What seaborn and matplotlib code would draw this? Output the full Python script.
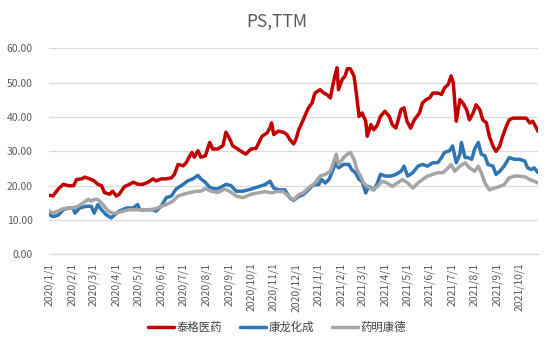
import matplotlib
matplotlib.use("Agg")
import matplotlib.pyplot as plt
import matplotlib.dates as mdates
from matplotlib.ticker import FuncFormatter
from matplotlib.lines import Line2D
import seaborn as sns
import pandas as pd

title = "PS,TTM"
series_names = ["泰格医药", "康龙化成", "药明康德"]
colors = ["#C00000", "#2E75B6", "#A5A5A5"]

tigermed_dates = [
    "2020-01-01", "2020-01-06", "2020-01-13", "2020-01-20", "2020-01-27", "2020-02-03", "2020-02-07",
    "2020-02-14", "2020-02-18", "2020-02-25", "2020-03-02", "2020-03-07", "2020-03-12", "2020-03-16",
    "2020-03-23", "2020-03-27", "2020-04-01", "2020-04-05", "2020-04-12", "2020-04-19", "2020-04-24",
    "2020-05-01", "2020-05-07", "2020-05-14", "2020-05-21", "2020-05-25", "2020-06-01", "2020-06-08",
    "2020-06-15", "2020-06-19", "2020-06-24", "2020-07-01", "2020-07-05", "2020-07-10", "2020-07-13",
    "2020-07-16", "2020-07-21", "2020-07-25", "2020-07-31", "2020-08-06", "2020-08-10", "2020-08-17",
    "2020-08-24", "2020-08-28", "2020-09-02", "2020-09-06", "2020-09-13", "2020-09-20", "2020-09-24",
    "2020-10-01", "2020-10-08", "2020-10-16", "2020-10-23", "2020-10-27", "2020-10-29", "2020-11-01",
    "2020-11-07", "2020-11-14", "2020-11-19", "2020-11-23", "2020-11-28", "2020-12-01", "2020-12-05",
    "2020-12-11", "2020-12-18", "2020-12-23", "2020-12-27", "2021-01-03", "2021-01-08", "2021-01-12",
    "2021-01-17", "2021-01-19", "2021-01-23", "2021-01-26", "2021-01-28", "2021-02-02", "2021-02-06",
    "2021-02-09", "2021-02-13", "2021-02-18", "2021-02-20", "2021-02-25", "2021-03-01", "2021-03-06",
    "2021-03-08", "2021-03-13", "2021-03-17", "2021-03-22", "2021-03-26", "2021-04-01", "2021-04-07",
    "2021-04-11", "2021-04-16", "2021-04-23", "2021-04-27", "2021-05-01", "2021-05-06", "2021-05-11",
    "2021-05-18", "2021-05-22", "2021-05-27", "2021-06-01", "2021-06-05", "2021-06-12", "2021-06-17",
    "2021-06-21", "2021-06-26", "2021-06-30", "2021-07-03", "2021-07-07", "2021-07-12", "2021-07-16",
    "2021-07-21", "2021-07-25", "2021-07-30", "2021-08-03", "2021-08-08", "2021-08-12", "2021-08-17",
    "2021-08-21", "2021-08-26", "2021-08-30", "2021-09-04", "2021-09-08", "2021-09-13", "2021-09-17",
    "2021-09-22", "2021-10-01", "2021-10-10", "2021-10-15", "2021-10-19", "2021-10-24", "2021-10-26",
]
tigermed_values = [
    17.2, 17.0, 19.0, 20.4, 20.0, 20.0, 21.8,
    22.0, 22.5, 22.0, 21.4, 20.4, 20.0, 18.0,
    17.5, 18.4, 17.0, 17.5, 19.7, 20.4, 21.0,
    20.4, 20.4, 21.0, 22.0, 21.4, 22.0, 22.0,
    22.3, 23.3, 26.2, 25.8, 26.7, 28.7, 29.7,
    28.3, 30.2, 28.3, 28.7, 32.6, 30.7, 30.7,
    31.7, 35.6, 33.7, 31.7, 30.7, 29.7, 29.2,
    30.7, 30.9, 34.4, 35.4, 36.9, 38.3, 34.9,
    35.9, 35.6, 34.9, 33.4, 32.2, 33.4, 36.3,
    39.2, 42.6, 44.1, 47.0, 48.0, 47.0, 46.6,
    45.6, 48.0, 52.0, 54.4, 48.0, 51.0, 52.0,
    54.1, 54.1, 52.0, 49.0, 40.2, 41.2, 38.8,
    34.4, 37.8, 36.3, 37.8, 40.2, 41.7, 40.2,
    37.8, 36.8, 42.2, 42.7, 38.8, 36.8, 39.2,
    41.2, 44.1, 45.1, 45.6, 47.0, 47.0, 46.6,
    48.5, 49.5, 52.0, 50.0, 38.8, 45.1, 44.1,
    42.2, 39.2, 41.2, 43.6, 42.2, 39.2, 38.3,
    34.4, 31.5, 30.0, 31.5, 34.4, 37.3, 39.2,
    39.7, 39.7, 39.7, 38.3, 38.8, 36.8, 35.9,
]

asymchem_dates = [
    "2020-01-01", "2020-01-06", "2020-01-13", "2020-01-20", "2020-01-27", "2020-02-02", "2020-02-05",
    "2020-02-11", "2020-02-20", "2020-02-27", "2020-03-02", "2020-03-07", "2020-03-12", "2020-03-18",
    "2020-03-25", "2020-03-30", "2020-04-05", "2020-04-15", "2020-04-24", "2020-04-30", "2020-05-03",
    "2020-05-12", "2020-05-21", "2020-05-25", "2020-06-01", "2020-06-08", "2020-06-15", "2020-06-21",
    "2020-07-01", "2020-07-07", "2020-07-14", "2020-07-21", "2020-07-25", "2020-07-31", "2020-08-06",
    "2020-08-15", "2020-08-21", "2020-08-28", "2020-09-04", "2020-09-11", "2020-09-20", "2020-10-01",
    "2020-10-20", "2020-10-27", "2020-11-01", "2020-11-07", "2020-11-16", "2020-11-23", "2020-11-28",
    "2020-12-05", "2020-12-11", "2020-12-18", "2020-12-25", "2021-01-01", "2021-01-05", "2021-01-10",
    "2021-01-15", "2021-01-19", "2021-01-24", "2021-01-28", "2021-02-04", "2021-02-11", "2021-02-15",
    "2021-02-20", "2021-02-25", "2021-03-01", "2021-03-06", "2021-03-10", "2021-03-17", "2021-03-22",
    "2021-03-26", "2021-04-02", "2021-04-09", "2021-04-16", "2021-04-23", "2021-04-27", "2021-05-02",
    "2021-05-09", "2021-05-16", "2021-05-22", "2021-05-29", "2021-06-05", "2021-06-12", "2021-06-17",
    "2021-06-21", "2021-06-28", "2021-07-02", "2021-07-07", "2021-07-12", "2021-07-14", "2021-07-19",
    "2021-07-23", "2021-07-28", "2021-08-01", "2021-08-06", "2021-08-10", "2021-08-15", "2021-08-19",
    "2021-08-26", "2021-08-30", "2021-09-04", "2021-09-10", "2021-09-17", "2021-09-24", "2021-10-01",
    "2021-10-08", "2021-10-12", "2021-10-17", "2021-10-21", "2021-10-26",
]
asymchem_values = [
    11.6, 11.0, 11.4, 13.0, 13.5, 13.5, 12.0,
    13.5, 14.0, 14.0, 12.0, 14.5, 13.0, 11.6,
    10.6, 11.6, 12.6, 13.5, 13.5, 14.5, 13.0,
    13.0, 13.0, 12.6, 14.0, 16.5, 17.0, 19.0,
    20.4, 21.4, 22.0, 23.0, 22.0, 21.0, 19.5,
    19.0, 19.5, 20.4, 20.0, 18.4, 18.4, 19.0,
    20.3, 21.3, 19.3, 18.8, 18.8, 16.4, 15.7,
    16.9, 17.4, 18.8, 20.3, 20.3, 21.8, 20.8,
    21.8, 23.8, 26.7, 25.2, 26.2, 26.2, 24.7,
    23.8, 21.8, 21.3, 17.9, 19.8, 18.8, 20.8,
    23.3, 22.8, 22.8, 23.3, 24.2, 25.7, 22.8,
    23.8, 25.7, 26.2, 25.7, 26.7, 26.7, 28.2,
    29.7, 30.2, 31.6, 26.7, 29.2, 32.6, 28.2,
    28.2, 27.7, 30.7, 32.6, 29.2, 28.7, 26.2,
    25.7, 23.3, 24.2, 25.7, 28.2, 27.7, 27.7,
    27.2, 25.2, 24.7, 25.2, 23.8,
]

wuxi_dates = [
    "2020-01-01", "2020-01-06", "2020-01-13", "2020-01-20", "2020-01-27", "2020-02-02", "2020-02-09",
    "2020-02-16", "2020-02-23", "2020-02-27", "2020-03-02", "2020-03-07", "2020-03-14", "2020-03-21",
    "2020-03-27", "2020-04-01", "2020-04-10", "2020-04-19", "2020-04-28", "2020-05-07", "2020-05-16",
    "2020-05-25", "2020-06-01", "2020-06-08", "2020-06-17", "2020-06-24", "2020-07-01", "2020-07-10",
    "2020-07-19", "2020-07-25", "2020-07-31", "2020-08-08", "2020-08-17", "2020-08-26", "2020-09-02",
    "2020-09-11", "2020-09-20", "2020-10-01", "2020-10-20", "2020-10-29", "2020-11-05", "2020-11-14",
    "2020-11-21", "2020-11-28", "2020-12-05", "2020-12-11", "2020-12-18", "2020-12-27", "2021-01-03",
    "2021-01-10", "2021-01-17", "2021-01-21", "2021-01-25", "2021-01-28", "2021-02-04", "2021-02-09",
    "2021-02-13", "2021-02-18", "2021-02-22", "2021-02-27", "2021-03-03", "2021-03-08", "2021-03-15",
    "2021-03-22", "2021-03-28", "2021-04-04", "2021-04-11", "2021-04-18", "2021-04-25", "2021-05-02",
    "2021-05-09", "2021-05-16", "2021-05-22", "2021-05-29", "2021-06-05", "2021-06-12", "2021-06-19",
    "2021-06-26", "2021-06-30", "2021-07-05", "2021-07-12", "2021-07-19", "2021-07-25", "2021-08-01",
    "2021-08-06", "2021-08-10", "2021-08-15", "2021-08-21", "2021-08-28", "2021-09-04", "2021-09-10",
    "2021-09-17", "2021-09-24", "2021-10-01", "2021-10-08", "2021-10-15", "2021-10-21", "2021-10-26",
]
wuxi_values = [
    12.6, 12.0, 12.6, 13.3, 13.5, 13.5, 14.0,
    15.0, 16.0, 15.5, 16.0, 16.0, 14.5, 12.6,
    12.0, 12.0, 12.6, 13.0, 13.0, 13.0, 13.0,
    13.3, 14.0, 14.5, 15.5, 17.0, 17.5, 18.0,
    18.4, 18.4, 19.2, 18.4, 18.0, 19.0, 18.4,
    17.0, 16.5, 17.5, 18.3, 17.9, 18.3, 18.3,
    16.9, 15.9, 17.4, 17.9, 19.3, 20.8, 22.8,
    23.3, 24.2, 26.7, 29.2, 26.2, 28.2, 29.2,
    29.7, 27.7, 24.7, 22.8, 20.8, 19.8, 18.8,
    19.8, 21.3, 20.8, 19.8, 20.8, 21.8, 20.8,
    19.3, 20.8, 21.8, 22.8, 23.3, 23.8, 23.8,
    25.2, 26.2, 24.2, 25.7, 26.7, 25.2, 24.2,
    25.7, 23.8, 20.8, 18.8, 19.3, 19.8, 20.3,
    22.3, 22.8, 22.8, 22.6, 21.8, 21.3, 20.8,
]

y_ticks = [0, 10, 20, 30, 40, 50, 60]

frames = []
for name, d, v in zip(series_names,
                      [tigermed_dates, asymchem_dates, wuxi_dates],
                      [tigermed_values, asymchem_values, wuxi_values]):
    frames.append(pd.DataFrame({"date": pd.to_datetime(d), "value": v, "series": name}))
df = pd.concat(frames, ignore_index=True)

sns.set_style("white")
plt.rcParams["font.family"] = ["Noto Sans CJK SC", "DejaVu Sans"]

fig = plt.figure(figsize=(5.54, 3.54), dpi=100)
ax = fig.add_axes([0.089, 0.2816, 0.882, 0.5814])

sns.lineplot(data=df, x="date", y="value", hue="series", hue_order=series_names,
             palette=colors, linewidth=2.5, ax=ax, legend=False, estimator=None, sort=True)

ax.set_xlim(pd.Timestamp("2020-01-01"), pd.Timestamp("2021-10-26"))
ax.set_ylim(0, 60)
ax.set_yticks(y_ticks)
ax.yaxis.set_major_formatter(FuncFormatter(lambda v, p: f"{v:.2f}"))
ax.xaxis.set_major_locator(mdates.MonthLocator())
ax.xaxis.set_major_formatter(FuncFormatter(
    lambda v, p: (lambda d: f"{d.year}/{d.month}/{d.day}")(mdates.num2date(v))))
ax.set_xlabel("")
ax.set_ylabel("")

ax.grid(axis="y", color="#D9D9D9", linewidth=0.9)
ax.set_axisbelow(True)
for s in ["top", "right", "left"]:
    ax.spines[s].set_visible(False)
ax.spines["bottom"].set_color("#D9D9D9")
ax.spines["bottom"].set_linewidth(0.9)

ax.tick_params(axis="x", which="major", length=4, color="#D9D9D9", direction="out",
               labelrotation=90, labelsize=7.5, labelcolor="#595959", pad=2)
ax.tick_params(axis="y", length=0, labelsize=7.5, labelcolor="#595959", pad=12)

fig.text(0.5, 0.938, title, ha="center", va="center", fontsize=12.5, color="#595959")

handles = [Line2D([0], [0], color=c, linewidth=2.5) for c in colors]
fig.legend(handles, series_names, loc="center", bbox_to_anchor=(0.5, 0.076), ncol=3,
           frameon=False, fontsize=8.2, handlelength=2.3, handletextpad=0.2, columnspacing=1.6,
           labelcolor="#404040")

fig.savefig("out.png", dpi=100)
